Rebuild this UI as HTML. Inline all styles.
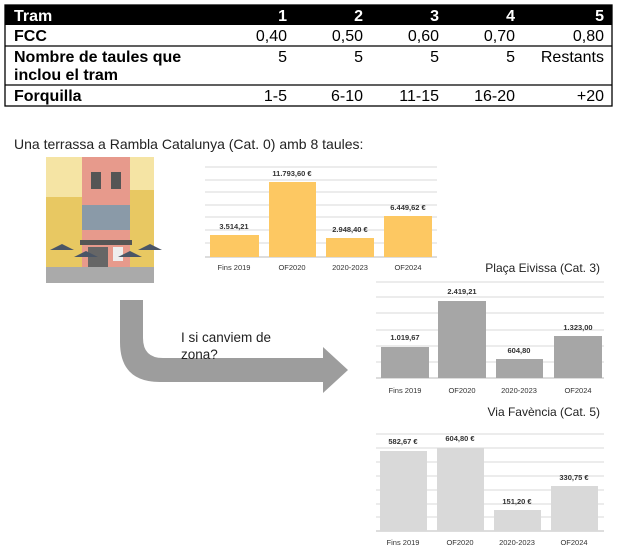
<!DOCTYPE html>
<html><head><meta charset="utf-8"><style>
body{margin:0;background:#fff;width:618px;height:554px;overflow:hidden;font-family:"Liberation Sans",sans-serif}
</style></head><body>
<svg width="618" height="554" xmlns="http://www.w3.org/2000/svg" style="position:absolute;left:0;top:0">
<!-- table -->
<rect x="5" y="5" width="607" height="20" fill="#000"/>
<g font-family="Liberation Sans Narrow, Liberation Sans" font-size="16">
<g fill="#fff" font-weight="bold" text-anchor="end"><text x="287" y="21">1</text><text x="363" y="21">2</text><text x="439" y="21">3</text><text x="515" y="21">4</text><text x="604" y="21">5</text></g>
<text x="14" y="21" fill="#fff" font-weight="bold">Tram</text>
<g stroke="#000" stroke-width="1.3" fill="none"><rect x="5" y="5" width="607" height="101"/><line x1="5" y1="46" x2="612" y2="46"/><line x1="5" y1="85" x2="612" y2="85"/></g>
<g font-weight="bold" fill="#000"><text x="14" y="41">FCC</text><text x="14" y="62">Nombre de taules que</text><text x="14" y="80">inclou el tram</text><text x="14" y="101">Forquilla</text></g>
<g text-anchor="end"><text x="287" y="41">0,40</text><text x="363" y="41">0,50</text><text x="439" y="41">0,60</text><text x="515" y="41">0,70</text><text x="604" y="41">0,80</text>
<text x="287" y="62">5</text><text x="363" y="62">5</text><text x="439" y="62">5</text><text x="515" y="62">5</text><text x="604" y="62">Restants</text>
<text x="287" y="101">1-5</text><text x="363" y="101">6-10</text><text x="439" y="101">11-15</text><text x="515" y="101">16-20</text><text x="604" y="101">+20</text></g>
</g>
<text x="14" y="149" font-size="14" fill="#222">Una terrassa a Rambla Catalunya (Cat. 0) amb 8 taules:</text>
<!-- illustration -->
<rect x="46" y="157" width="108" height="126" fill="#f5e4a4"/>
<rect x="46" y="197" width="36" height="70" fill="#e8c862"/>
<rect x="130" y="190" width="24" height="77" fill="#e8c862"/>
<rect x="82" y="157" width="48" height="110" fill="#e79a8c"/>
<rect x="82" y="205" width="48" height="25" fill="#8a9aa8"/>
<rect x="91" y="172" width="10" height="17" fill="#555"/><rect x="111" y="172" width="10" height="17" fill="#555"/>
<rect x="80" y="240" width="52" height="5" fill="#555"/>
<rect x="88" y="247" width="20" height="20" fill="#666"/><rect x="113" y="247" width="10" height="14" fill="#eee"/>
<rect x="46" y="267" width="108" height="16" fill="#aaa"/>
<g fill="#4a5566"><path d="M50 250 l12-6 12 6z"/><path d="M74 257 l12-6 12 6z"/><path d="M118 257 l12-6 12 6z"/><path d="M138 250 l12-6 12 6z"/></g>
<!-- chart1 -->
<g stroke="#d9d9d9" stroke-width="1"><line x1="205" y1="167" x2="437" y2="167"/><line x1="205" y1="180" x2="437" y2="180"/><line x1="205" y1="192" x2="437" y2="192"/><line x1="205" y1="205" x2="437" y2="205"/><line x1="205" y1="217" x2="437" y2="217"/><line x1="205" y1="230" x2="437" y2="230"/><line x1="205" y1="243" x2="437" y2="243"/></g>
<line x1="205" y1="257" x2="437" y2="257" stroke="#bbb"/>
<g fill="#fdc862"><rect x="210" y="235" width="49" height="22"/><rect x="269" y="182" width="47" height="75"/><rect x="326" y="238" width="48" height="19"/><rect x="384" y="216" width="48" height="41"/></g>
<g font-size="7.5" font-weight="bold" text-anchor="middle" fill="#333"><text x="234" y="229">3.514,21</text><text x="292" y="176">11.793,60 €</text><text x="350" y="232">2.948,40 €</text><text x="408" y="210">6.449,62 €</text></g>
<g font-size="7.5" text-anchor="middle" fill="#333"><text x="234" y="270">Fins 2019</text><text x="292" y="270">OF2020</text><text x="350" y="270">2020-2023</text><text x="408" y="270">OF2024</text></g>
<!-- chart2 -->
<text x="600" y="272" font-size="12" text-anchor="end" fill="#222">Plaça Eivissa (Cat. 3)</text>
<g stroke="#d9d9d9"><line x1="376" y1="282" x2="604" y2="282"/><line x1="376" y1="297" x2="604" y2="297"/><line x1="376" y1="313" x2="604" y2="313"/><line x1="376" y1="330" x2="604" y2="330"/><line x1="376" y1="346" x2="604" y2="346"/><line x1="376" y1="362" x2="604" y2="362"/></g>
<line x1="376" y1="378" x2="604" y2="378" stroke="#bbb"/>
<g fill="#a6a6a6"><rect x="381" y="347" width="48" height="31"/><rect x="438" y="301" width="48" height="77"/><rect x="496" y="359" width="47" height="19"/><rect x="554" y="336" width="48" height="42"/></g>
<g font-size="7.5" font-weight="bold" text-anchor="middle" fill="#333"><text x="405" y="340">1.019,67</text><text x="462" y="294">2.419,21</text><text x="519" y="353">604,80</text><text x="578" y="330">1.323,00</text></g>
<g font-size="7.5" text-anchor="middle" fill="#333"><text x="405" y="393">Fins 2019</text><text x="462" y="393">OF2020</text><text x="519" y="393">2020-2023</text><text x="578" y="393">OF2024</text></g>
<!-- chart3 -->
<text x="600" y="416" font-size="12" text-anchor="end" fill="#222">Via Favència (Cat. 5)</text>
<g stroke="#d9d9d9"><line x1="376" y1="434" x2="604" y2="434"/><line x1="376" y1="448" x2="604" y2="448"/><line x1="376" y1="462" x2="604" y2="462"/><line x1="376" y1="476" x2="604" y2="476"/><line x1="376" y1="490" x2="604" y2="490"/><line x1="376" y1="504" x2="604" y2="504"/><line x1="376" y1="517" x2="604" y2="517"/></g>
<line x1="376" y1="531" x2="604" y2="531" stroke="#bbb"/>
<g fill="#d9d9d9"><rect x="380" y="451" width="47" height="80"/><rect x="437" y="448" width="47" height="83"/><rect x="494" y="510" width="47" height="21"/><rect x="551" y="486" width="47" height="45"/></g>
<g font-size="7.5" font-weight="bold" text-anchor="middle" fill="#333"><text x="403" y="444">582,67 €</text><text x="460" y="441">604,80 €</text><text x="517" y="504">151,20 €</text><text x="574" y="480">330,75 €</text></g>
<g font-size="7.5" text-anchor="middle" fill="#333"><text x="403" y="545">Fins 2019</text><text x="460" y="545">OF2020</text><text x="517" y="545">2020-2023</text><text x="574" y="545">OF2024</text></g>
<!-- arrow -->
<path d="M120 300 H143 V338 Q143 358 163 358 H323 V347 L348 370 L323 393 V382 H160 Q120 382 120 342 Z" fill="#9d9d9d"/>
<text x="181" y="342" font-size="13.5" fill="#222">I si canviem de</text>
<text x="181" y="359" font-size="13.5" fill="#222">zona?</text>
</svg>
</body></html>
